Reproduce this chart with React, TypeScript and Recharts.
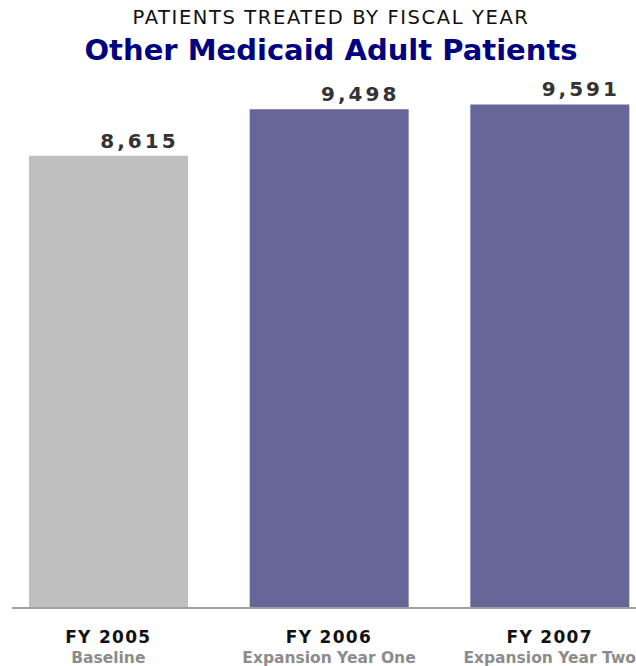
import React from 'react'
import { BarChart, Bar, XAxis, YAxis, Cell, LabelList } from 'recharts'

// data
const YEARS = ['FY 2005', 'FY 2006', 'FY 2007']
const SUBTITLES = ['Baseline', 'Expansion Year One', 'Expansion Year Two']
const PATIENTS = [8615, 9498, 9591]
const BAR_COLORS = ['#bfbfbf', '#666699', '#666699']

const data = YEARS.map((year, i) => ({ year, patients: PATIENTS[i] }))

const FONT = '"DejaVu Sans", Verdana, sans-serif'

function YearTick({ x, y, payload, index }: any) {
  return (
    <g>
      <text x={x} y={y + 27} textAnchor="middle" fontFamily={FONT} fontWeight="bold" fontSize={17} fill="#111111" letterSpacing={1.3}>
        {payload.value}
      </text>
      <text x={x} y={y + 47} textAnchor="middle" fontFamily={FONT} fontWeight="bold" fontSize={15.5} fill="#8c8c8c">
        {SUBTITLES[index]}
      </text>
    </g>
  )
}

function ValueLabel({ x, y, width, value }: any) {
  return (
    <text x={x + width / 2 + 31} y={y - 8} textAnchor="middle" fontFamily={FONT} fontWeight="bold" fontSize={20} fill="#333333" letterSpacing={3}>
      {Number(value).toLocaleString('en-US')}
    </text>
  )
}

export default function App() {
  return (
    <div style={{ position: 'absolute', left: 0, top: 0, width: 636, height: 666, overflow: 'hidden', background: '#fff', fontFamily: FONT }}>
      <div style={{ position: 'absolute', left: 0, width: 662, top: 6, textAlign: 'center', fontSize: 19.5, letterSpacing: 1.6, color: '#111', fontFamily: FONT, lineHeight: '24px' }}>
        PATIENTS TREATED BY FISCAL YEAR
      </div>
      <div style={{ position: 'absolute', left: 0, width: 662, top: 33, textAlign: 'center', fontSize: 29, fontWeight: 'bold', color: '#000080', fontFamily: FONT, lineHeight: '34px' }}>
        Other Medicaid Adult Patients
      </div>
      <div style={{ position: 'absolute', left: 0, top: 0 }}>
        <BarChart width={660} height={666} data={data} margin={{ top: 83, right: 0, left: 12, bottom: 0 }}>
          <XAxis
            dataKey="year"
            height={58}
            padding={{ left: -14, right: 0 }}
            axisLine={{ stroke: '#a0a0a0', strokeWidth: 2 }}
            tickLine={false}
            interval={0}
            tick={<YearTick />}
          />
          <YAxis hide domain={[0, 10000]} />
          <Bar dataKey="patients" barSize={159} isAnimationActive={false}>
            {data.map((d, i) => (
              <Cell key={d.year} fill={BAR_COLORS[i]} />
            ))}
            <LabelList dataKey="patients" content={<ValueLabel />} />
          </Bar>
        </BarChart>
      </div>
    </div>
  )
}
